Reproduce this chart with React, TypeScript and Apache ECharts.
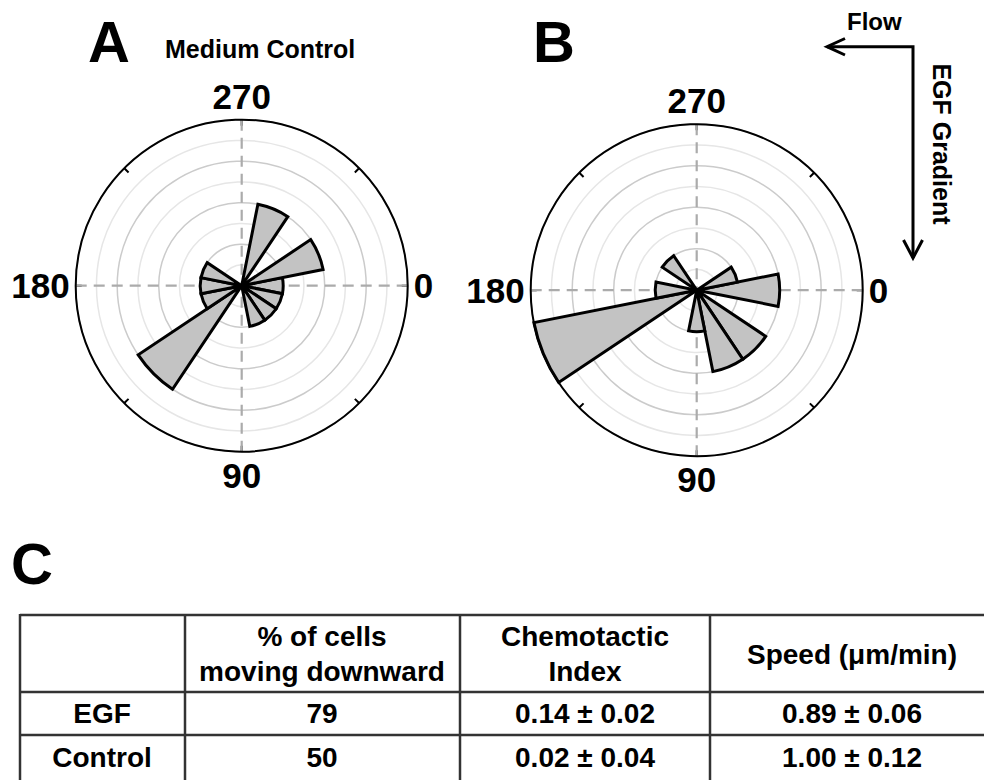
import React, { useEffect, useRef } from "react";
import * as echarts from "echarts";

// Direction bins (degrees, 0 = right, 90 = down, clockwise), 22.5° wide
const bins = ["0", "22.5", "45", "67.5", "90", "112.5", "135", "157.5", "180", "202.5", "225", "247.5", "270", "292.5", "315", "337.5"];
// Rose counts (radial units, 8 = outer circle)
const countsA = [2, 2, 2, 2, 0, 0, 6, 2, 2, 2, 0, 0, 0, 4, 0, 4];
const countsB = [4, 0, 4, 4, 2, 0, 0, 8, 2, 0, 2, 0, 0, 0, 0, 2];
const radialMax = 8;
const angleLabels = ["0", "90", "180", "270"];

// Table content
const tableHeader1 = ["", "% of cells", "Chemotactic", "Speed (\u03bcm/min)"];
const tableHeader2 = ["", "moving downward", "Index", ""];
const rowEGF = ["EGF", "79", "0.14 \u00b1 0.02", "0.89 \u00b1 0.06"];
const rowControl = ["Control", "50", "0.02 \u00b1 0.04", "1.00 \u00b1 0.12"];

const FONT = '"Liberation Sans", Arial, Helvetica, sans-serif';

export default function App() {
  const ref = useRef<HTMLDivElement>(null);

  useEffect(() => {
    if (!ref.current) return;
    const chart = echarts.init(ref.current, undefined, { renderer: "svg" });

    const cA = [241.7, 285.7];
    const cB = [696.7, 290.2];
    const R = 166;

    const gridAngle = (polarIndex: number) => ({
      polarIndex,
      type: "value",
      min: 0,
      max: 360,
      interval: 90,
      startAngle: 0,
      clockwise: true,
      axisLine: { show: true, lineStyle: { color: "#000", width: 2 } },
      axisTick: { show: true, inside: true, length: 6, lineStyle: { color: "#000", width: 2 } },
      minorTick: { show: true, splitNumber: 2, length: 6, lineStyle: { color: "#000", width: 2 } },
      splitLine: { show: true, lineStyle: { color: "#ababab", width: 2.2, type: [11, 7] } },
      axisLabel: {
        show: true,
        margin: 6,
        fontSize: 35,
        fontWeight: "bold",
        fontFamily: FONT,
        color: "#000",
        formatter: (v: number) => {
          const s = String(v);
          return angleLabels.indexOf(s) >= 0 ? s : "";
        },
      },
    });
    const gridRadius = (polarIndex: number) => ({
      polarIndex,
      type: "value",
      min: 0,
      max: radialMax,
      interval: 1,
      axisLine: { show: false },
      axisTick: { show: false },
      axisLabel: { show: false },
      splitLine: { show: true, lineStyle: { color: ["#cbcbcb", "#e6e6e6"], width: 1.5 } },
    });
    const barAngle = (polarIndex: number) => ({
      polarIndex,
      type: "category",
      data: bins,
      startAngle: 11.25,
      clockwise: true,
      boundaryGap: true,
      show: false,
    });
    const barRadius = (polarIndex: number) => ({
      polarIndex,
      type: "value",
      min: 0,
      max: radialMax,
      show: false,
      splitLine: { show: false },
    });

    const barStyle = { color: "#c3c3c3", borderColor: "#000", borderWidth: 3 };

    const text = (t: string, x: number, y: number, size: number, align = "center", extra: any = {}) => ({
      type: "text",
      x,
      y,
      z: 10,
      ...extra,
      style: {
        text: t,
        fill: "#000",
        fontSize: size,
        fontWeight: "bold",
        fontFamily: FONT,
        align,
        verticalAlign: "middle",
      },
    });

    const line = (x1: number, y1: number, x2: number, y2: number, w = 2.5, c = "#333") => ({
      type: "line",
      z: 10,
      shape: { x1, y1, x2, y2 },
      style: { stroke: c, lineWidth: w },
    });

    const colCenters = [102, 322, 585, 852];
    const graphics: any[] = [
      text("A", 88, 41, 58, "left"),
      text("B", 533, 41, 58, "left"),
      text("C", 11, 563, 58, "left"),
      text("Medium Control", 165, 49, 25, "left"),
      text("Flow", 847, 21, 24, "left"),
      text("EGF Gradient", 942, 144, 25, "center", { rotation: -Math.PI / 2 }),
      // arrows
      { type: "polyline", z: 10, shape: { points: [[827, 46.7], [913, 46.7], [913, 258]] }, style: { stroke: "#000", lineWidth: 3, fill: null } },
      { type: "polyline", z: 10, shape: { points: [[845, 38.5], [827, 46.7], [845, 55]] }, style: { stroke: "#000", lineWidth: 3, fill: null } },
      { type: "polyline", z: 10, shape: { points: [[903.5, 240], [913, 258], [922.5, 240]] }, style: { stroke: "#000", lineWidth: 3, fill: null } },
      // table lines
      line(20, 615, 984, 615),
      line(20, 692, 984, 692),
      line(20, 735, 984, 735),
      line(20, 614, 20, 780),
      line(185, 614, 185, 780),
      line(460, 614, 460, 780),
      line(710, 614, 710, 780),
    ];
    tableHeader1.forEach((t, i) => {
      if (!t) return;
      const twoLine = tableHeader2[i] !== "";
      graphics.push(text(t, colCenters[i], twoLine ? 636 : 654, 28));
    });
    tableHeader2.forEach((t, i) => {
      if (!t) return;
      graphics.push(text(t, colCenters[i], 671, 28));
    });
    rowEGF.forEach((t, i) => graphics.push(text(t, colCenters[i], 713, 28)));
    rowControl.forEach((t, i) => graphics.push(text(t, colCenters[i], 757, 28)));

    chart.setOption({
      animation: false,
      backgroundColor: "#fff",
      polar: [
        { center: cA, radius: R },
        { center: cA, radius: R },
        { center: cB, radius: R },
        { center: cB, radius: R },
      ],
      angleAxis: [gridAngle(0), barAngle(1), gridAngle(2), barAngle(3)],
      radiusAxis: [gridRadius(0), barRadius(1), gridRadius(2), barRadius(3)],
      series: [
        {
          name: "Medium Control",
          type: "bar",
          coordinateSystem: "polar",
          polarIndex: 1,
          data: countsA,
          barCategoryGap: "0%",
          itemStyle: barStyle,
          z: 3,
        },
        {
          name: "EGF",
          type: "bar",
          coordinateSystem: "polar",
          polarIndex: 3,
          data: countsB,
          barCategoryGap: "0%",
          itemStyle: barStyle,
          z: 3,
        },
      ],
      graphic: graphics,
    });

    return () => chart.dispose();
  }, []);

  return (
    <div
      ref={ref}
      style={{ position: "absolute", left: 0, top: 0, width: 984, height: 780, background: "#fff" }}
    />
  );
}
